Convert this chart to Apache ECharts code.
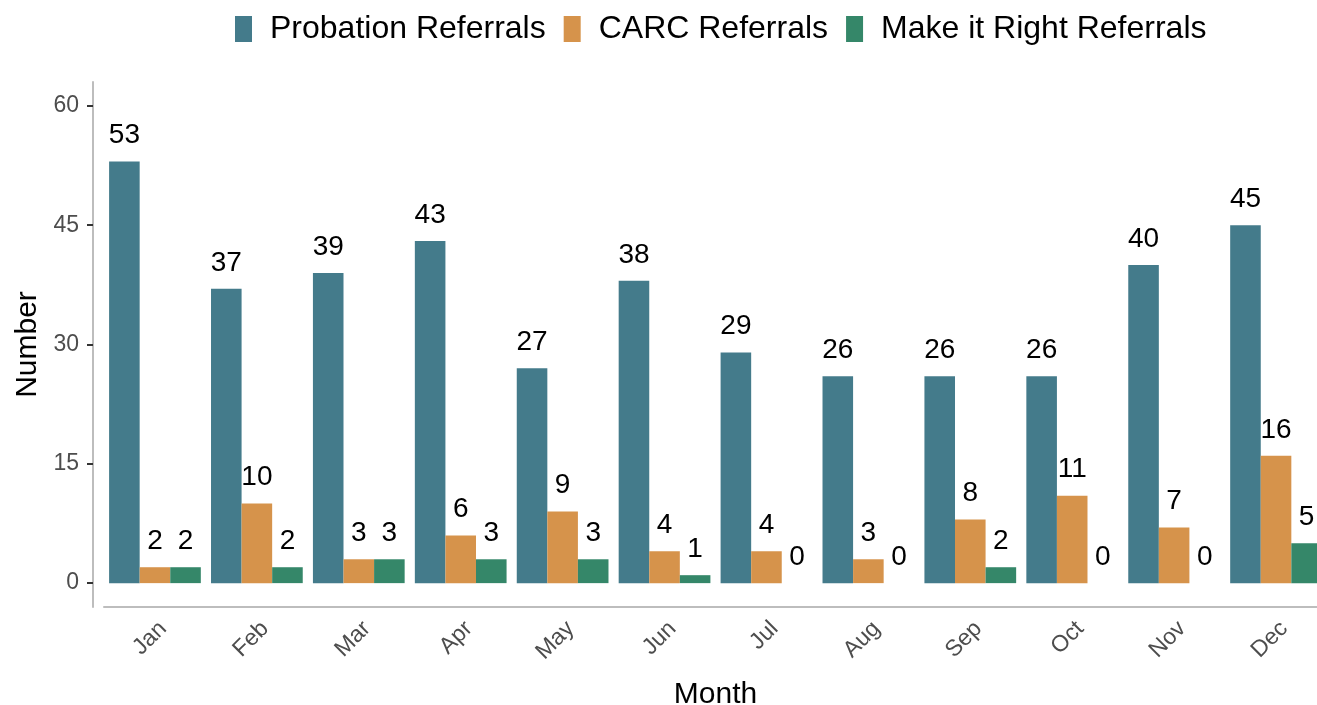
<!DOCTYPE html>
<html>
<head>
<meta charset="utf-8">
<script src="https://cdn.jsdelivr.net/npm/echarts@6/dist/echarts.min.js"></script>
<style>
  html, body { margin: 0; padding: 0; background: #fff; }
  #chart { width: 1317px; height: 705px; }
</style>
</head>
<body>
<div id="chart"></div>
<script>
// data
var months = ['Jan', 'Feb', 'Mar', 'Apr', 'May', 'Jun', 'Jul', 'Aug', 'Sep', 'Oct', 'Nov', 'Dec']
var probation = [53, 37, 39, 43, 27, 38, 29, 26, 26, 26, 40, 45]
var carc = [2, 10, 3, 6, 9, 4, 4, 3, 8, 11, 7, 16]
var makeItRight = [2, 2, 3, 3, 3, 1, 0, 0, 2, 0, 0, 5]
var yTicks = [0, 15, 30, 45, 60]

var font = 'Liberation Sans, Arial, sans-serif'

function barSeries(name, data, color) {
  return {
    name: name,
    type: 'bar',
    data: data,
    barGap: 0,
    barCategoryGap: '10%',
    itemStyle: { color: color },
    label: {
      show: true,
      position: 'top',
      distance: 12,
      color: '#000',
      fontSize: 28,
      fontFamily: font
    }
  }
}

var chart = echarts.init(document.getElementById('chart'))
chart.setOption({
  animation: false,
  textStyle: { fontFamily: font },
  legend: {
    top: 8,
    left: 230,
    itemWidth: 17,
    itemHeight: 26,
    itemGap: 18,
    icon: 'rect',
    textStyle: { fontSize: 32, color: '#000', fontFamily: font, padding: [0, 0, 0, 13] },
    data: ['Probation Referrals', 'CARC Referrals', 'Make it Right Referrals']
  },
  grid: {
    left: 104,
    right: -10,
    top: 82,
    bottom: 98,
    outerBoundsMode: 'none'
  },
  xAxis: {
    type: 'category',
    data: months,
    name: 'Month',
    nameLocation: 'middle',
    nameGap: 73,
    nameTextStyle: { fontSize: 30, color: '#000', fontFamily: font },
    axisLine: { onZero: false, lineStyle: { color: '#bdbdbd', width: 2 } },
    axisTick: { alignWithLabel: true, length: 6, lineStyle: { color: '#333', width: 2 } },
    axisLabel: { rotate: 45, fontSize: 23, color: '#4d4d4d', margin: 10, verticalAlign: 'top', fontFamily: font }
  },
  yAxis: {
    type: 'value',
    min: -3,
    max: 63,
    offset: 11,
    name: 'Number',
    nameLocation: 'middle',
    nameGap: 50,
    nameRotate: 90,
    nameTextStyle: { fontSize: 30, color: '#000', fontFamily: font },
    splitLine: { show: false },
    axisLine: { show: true, lineStyle: { color: '#bdbdbd', width: 2 } },
    axisTick: { show: true, length: 6, customValues: yTicks, lineStyle: { color: '#333', width: 2 } },
    axisLabel: { fontSize: 23, color: '#4d4d4d', margin: 14, customValues: yTicks, fontFamily: font }
  },
  series: [
    barSeries('Probation Referrals', probation, '#447b8b'),
    barSeries('CARC Referrals', carc, '#d6934b'),
    barSeries('Make it Right Referrals', makeItRight, '#358769')
  ]
})
</script>
</body>
</html>
